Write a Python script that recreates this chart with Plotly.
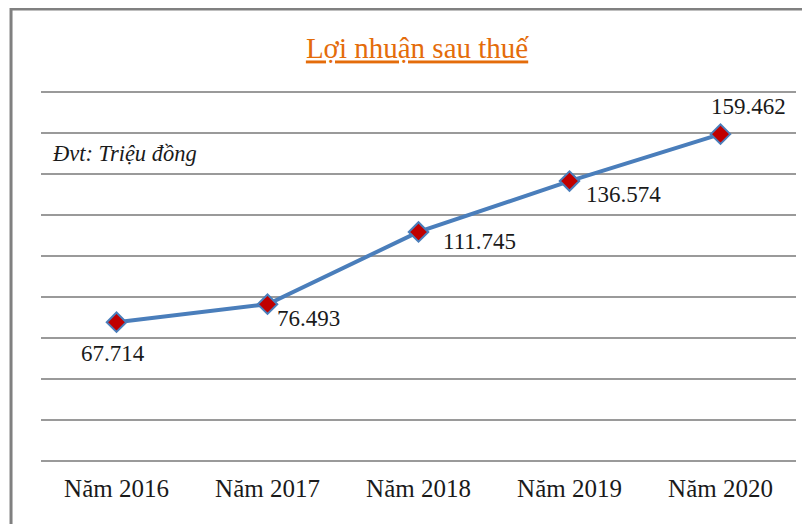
import plotly.graph_objects as go

years = ["Năm 2016", "Năm 2017", "Năm 2018", "Năm 2019", "Năm 2020"]
profit = [67.714, 76.493, 111.745, 136.574, 159.462]
labels = ["67.714", "76.493", "111.745", "136.574", "159.462"]
label_xshift = [-4, 41, 61, 54, 28]
label_yshift = [-31, -14, -10, -13, 28]

FONT = "Liberation Serif"

fig = go.Figure()
fig.add_trace(go.Scatter(
    x=years, y=profit, mode="lines+markers",
    line=dict(color="#4A7EBB", width=4),
    marker=dict(symbol="diamond", size=15, color="#C00000",
                line=dict(color="#4A7EBB", width=2)),
    hoverinfo="skip", showlegend=False,
))

for xv, yv, t, dx, dy in zip(years, profit, labels, label_xshift, label_yshift):
    fig.add_annotation(x=xv, y=yv, text=t, showarrow=False,
                       xshift=dx, yshift=dy,
                       font=dict(family=FONT, size=23, color="#1a1a1a"))

fig.add_annotation(xref="paper", yref="paper", x=0.012, y=0.83,
                   xanchor="left", yanchor="middle", showarrow=False,
                   text="<i>Đvt: Triệu đồng</i>",
                   font=dict(family=FONT, size=22.5, color="#1a1a1a"))

fig.add_shape(type="rect", xref="paper", yref="paper",
              x0=-0.0397, y0=-0.4, x1=1.2, y1=1.217,
              line=dict(color="#808080", width=3), layer="below")

fig.update_layout(
    width=810, height=524,
    margin=dict(l=33, r=22, t=82, b=69),
    paper_bgcolor="white", plot_bgcolor="white",
    title=dict(text="<span style='text-decoration:underline'>Lợi nhuận sau thuế</span>",
               x=0.505, xanchor="center", y=0.923, yanchor="middle",
               font=dict(family=FONT, size=29, color="#E46C0A")),
    xaxis=dict(range=[-0.5, 4.5], showgrid=False, showline=False, ticks="",
               tickfont=dict(family=FONT, size=25, color="#1a1a1a"),
               ticklabelstandoff=8, fixedrange=True),
    yaxis=dict(range=[-1, 181], dtick=20, showgrid=True, gridcolor="#9a9a9a",
               gridwidth=1.5, showticklabels=False, zeroline=False,
               showline=False, ticks="", fixedrange=True),
)

fig.write_html("out.html")
